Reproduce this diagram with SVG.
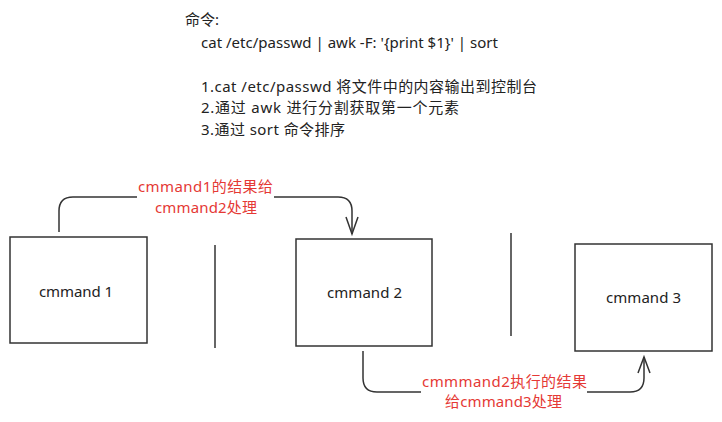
<svg xmlns="http://www.w3.org/2000/svg" width="722" height="422" viewBox="0 0 722 422">
<defs>
<style>
text{font-family:"Noto Sans","Noto Sans CJK SC",sans-serif;font-size:15px;fill:#222}
.red{fill:#e53935}
.box{fill:#fff;stroke:#333;stroke-width:1.5}
.ln{fill:none;stroke:#333;stroke-width:1.5}
</style>
</defs>
<rect width="722" height="422" fill="#fff"/>
<g id="header">
<text x="185" y="25">命令:</text>
<text x="201" y="48" textLength="297" lengthAdjust="spacing">cat /etc/passwd | awk -F: '{print $1}' | sort</text>
<text x="201" y="92" textLength="336" lengthAdjust="spacing">1.cat /etc/passwd 将文件中的内容输出到控制台</text>
<text x="201" y="113" textLength="258" lengthAdjust="spacing">2.通过 awk 进行分割获取第一个元素</text>
<text x="201" y="135" textLength="144" lengthAdjust="spacing">3.通过 sort 命令排序</text>
</g>
<g id="node1"><rect class="box" x="10" y="237" width="137" height="106"/><text x="39" y="297" textLength="74" lengthAdjust="spacing">cmmand 1</text></g>
<g id="node2"><rect class="box" x="296" y="239" width="136" height="107"/><text x="327" y="298" textLength="75" lengthAdjust="spacing">cmmand 2</text></g>
<g id="node3"><rect class="box" x="575" y="244" width="137" height="107"/><text x="606" y="303" textLength="75" lengthAdjust="spacing">cmmand 3</text></g>
<g id="dividers">
<line class="ln" x1="215" y1="245" x2="215" y2="348"/>
<line class="ln" x1="511" y1="233" x2="511" y2="336" stroke-width="1.2"/>
</g>
<g id="connectors">
<path class="ln" d="M59 232 V211 Q59 197 73 197 H137 M274 197 H338 Q352 197 352 211 V234"/>
<path class="ln" d="M346 217 L352 234 L358 217"/>
<path class="ln" d="M363 351 V378 Q363 392 377 392 H421 M587 392 H630 Q644 392 644 378 V357"/>
<path class="ln" d="M638 373 L644 357 L650 373"/>
<text class="red" x="138" y="192" textLength="135" lengthAdjust="spacing">cmmand1的结果给</text>
<text class="red" x="155" y="213" textLength="102" lengthAdjust="spacing">cmmand2处理</text>
<text class="red" x="422" y="387" textLength="165" lengthAdjust="spacing">cmmmand2执行的结果</text>
<text class="red" x="445" y="407" textLength="117" lengthAdjust="spacing">给cmmand3处理</text>
</g>
</svg>
